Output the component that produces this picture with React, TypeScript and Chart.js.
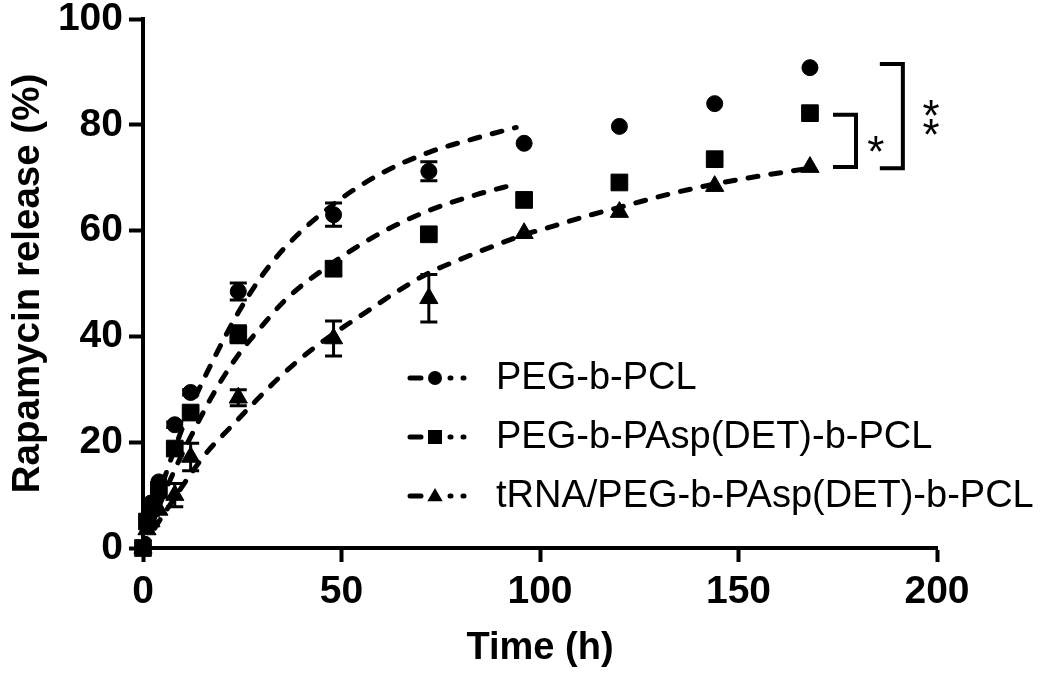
import React, { useEffect, useRef } from 'react';
import { Chart, registerables } from 'chart.js';

Chart.register(...registerables);

const FONT = '"Liberation Sans", Arial, Helvetica, sans-serif';

// Measured time points (h)
const timePoints = [0, 1, 2, 4, 8, 12, 24, 48, 72, 96, 120, 144, 168];

// Series values (% release) and error (SD)
const pegPclRelease = [0, 5.5, 8.5, 12.5, 23.3, 29.4, 48.5, 63.0, 71.2, 76.5, 79.7, 84.0, 90.8];
const pegPclError = [0, 0, 0, 0, 0.5, 0.5, 1.6, 2.2, 1.8, 0, 0, 0, 0];

const pegPaspPclRelease = [0, 5.0, 7.5, 11.0, 18.8, 25.6, 40.4, 52.8, 59.3, 65.8, 69.1, 73.5, 82.2];
const pegPaspPclError = [0, 0, 0, 0, 1.0, 0.5, 1.6, 1.2, 0, 0, 0, 0, 0];

const trnaRelease = [0, 3.5, 5.0, 7.2, 10.0, 17.2, 28.4, 39.6, 47.2, 59.5, 63.5, 68.4, 72.0];
const trnaError = [0, 0, 0, 0, 2.2, 2.6, 1.5, 3.3, 4.5, 0, 0, 0, 0];

// Fitted curves
const pegPclFitTime = [0, 4, 8, 12, 18, 24, 30, 36, 48, 60, 72, 84, 94];
const pegPclFitValue = [0, 10, 18.8, 26.5, 36, 44.5, 51.5, 57, 65, 70.8, 74.8, 77.5, 79.5];

const pegPaspPclFitTime = [0, 4, 8, 12, 18, 24, 30, 36, 48, 60, 72, 84, 94];
const pegPaspPclFitValue = [0, 7.8, 14.8, 21, 29.5, 36.5, 42, 47, 54, 59.6, 63.8, 66.8, 68.8];

const trnaFitTime = [0, 4, 8, 12, 16, 22, 28, 34, 40, 48, 56, 64, 72, 80, 88, 96, 104, 112, 120, 132, 144, 156, 168];
const trnaFitValue = [0, 5, 9.5, 14, 18, 22.8, 27.5, 32, 36, 40.5, 44.5, 48.5, 52, 54.6, 57, 59.2, 61, 62.8, 64.4, 66.8, 68.8, 70.4, 71.8];

const seriesLabels = ['PEG-b-PCL', 'PEG-b-PAsp(DET)-b-PCL', 'tRNA/PEG-b-PAsp(DET)-b-PCL'];
const seriesMarkers = ['circle', 'rect', 'triangle'];

// Axis ticks
const xTickValues = [0, 50, 100, 150, 200];
const yTickValues = [0, 20, 40, 60, 80, 100];

// Significance brackets (data coords): [xLeft, xRight, yTop, yBottom]
const sigBrackets = [
  [173.8, 179.6, 81.9, 72.0],
  [185.6, 191.4, 91.5, 71.8],
];
// Significance stars: [x, y, text]
const sigStars: [number, number, string][] = [
  [184.6, 76.4, '*'],
  [198.5, 83.2, '*'],
  [198.5, 79.6, '*'],
];

function toXY(xs: number[], ys: number[]) {
  return xs.map((x, i) => ({ x, y: ys[i] }));
}

function drawMarker(ctx: CanvasRenderingContext2D, style: string, x: number, y: number, r: number) {
  ctx.beginPath();
  if (style === 'circle') {
    ctx.arc(x, y, r, 0, Math.PI * 2);
  } else if (style === 'rect') {
    ctx.rect(x - r, y - r, 2 * r, 2 * r);
  } else {
    const h = r * 1.9;
    ctx.moveTo(x, y - h * 0.6);
    ctx.lineTo(x + r * 1.1, y + h * 0.4);
    ctx.lineTo(x - r * 1.1, y + h * 0.4);
    ctx.closePath();
  }
  ctx.fill();
}

const errorBarPlugin = {
  id: 'errorBars',
  afterDatasetsDraw(chart: any) {
    const ctx = chart.ctx as CanvasRenderingContext2D;
    const yScale = chart.scales.y;
    const errs = [pegPclError, pegPaspPclError, trnaError];
    const vals = [pegPclRelease, pegPaspPclRelease, trnaRelease];
    ctx.save();
    ctx.strokeStyle = '#000';
    ctx.lineWidth = 3;
    for (let d = 0; d < 3; d++) {
      const meta = chart.getDatasetMeta(d);
      meta.data.forEach((pt: any, j: number) => {
        const e = errs[d][j];
        if (!e) return;
        const x = pt.x;
        const y1 = yScale.getPixelForValue(vals[d][j] + e);
        const y2 = yScale.getPixelForValue(vals[d][j] - e);
        ctx.beginPath();
        ctx.moveTo(x, y1);
        ctx.lineTo(x, y2);
        ctx.moveTo(x - 8.5, y1);
        ctx.lineTo(x + 8.5, y1);
        ctx.moveTo(x - 8.5, y2);
        ctx.lineTo(x + 8.5, y2);
        ctx.stroke();
      });
    }
    ctx.restore();
  },
};

const annotationPlugin = {
  id: 'annotations',
  afterDraw(chart: any) {
    const ctx = chart.ctx as CanvasRenderingContext2D;
    const xs = chart.scales.x;
    const ys = chart.scales.y;
    ctx.save();
    // brackets
    ctx.strokeStyle = '#000';
    ctx.lineWidth = 4;
    ctx.lineJoin = 'miter';
    ctx.lineCap = 'butt';
    sigBrackets.forEach(([xl, xr, yt, yb]) => {
      const l = xs.getPixelForValue(xl);
      const r = xs.getPixelForValue(xr);
      const t = ys.getPixelForValue(yt);
      const b = ys.getPixelForValue(yb);
      ctx.beginPath();
      ctx.moveTo(l, t);
      ctx.lineTo(r, t);
      ctx.lineTo(r, b);
      ctx.lineTo(l, b);
      ctx.stroke();
    });
    // stars
    ctx.fillStyle = '#000';
    ctx.font = `44px ${FONT}`;
    ctx.textAlign = 'center';
    ctx.textBaseline = 'alphabetic';
    sigStars.forEach(([sx, sy, txt]) => {
      const m = ctx.measureText(txt);
      const a = m.actualBoundingBoxAscent;
      const d = m.actualBoundingBoxDescent;
      const cx = xs.getPixelForValue(sx);
      const cy = ys.getPixelForValue(sy);
      ctx.fillText(txt, cx, cy + (a - d) / 2);
    });
    // legend
    const rowY = [378, 437, 496];
    ctx.font = `38px ${FONT}`;
    ctx.textAlign = 'left';
    ctx.textBaseline = 'middle';
    seriesLabels.forEach((label, i) => {
      const y = rowY[i];
      ctx.lineWidth = 5;
      ctx.lineCap = 'round';
      ctx.beginPath();
      ctx.moveTo(410, y);
      ctx.lineTo(421, y);
      ctx.moveTo(450, y);
      ctx.lineTo(451, y);
      ctx.moveTo(463, y);
      ctx.lineTo(464, y);
      ctx.stroke();
      drawMarker(ctx, seriesMarkers[i], 435, y, 7);
      ctx.fillText(label, 496, y + 1);
    });
    ctx.restore();
  },
};

export default function App() {
  const canvasRef = useRef<HTMLCanvasElement | null>(null);

  useEffect(() => {
    if (!canvasRef.current) return;
    const markerCommon = {
      showLine: false,
      backgroundColor: '#000',
      borderColor: '#000',
      borderWidth: 1,
      clip: false as any,
      order: 0,
    };
    const curveCommon = {
      showLine: true,
      pointRadius: 0,
      borderColor: '#000',
      borderWidth: 5,
      borderDash: [10, 13],
      borderCapStyle: 'round' as const,
      cubicInterpolationMode: 'monotone' as const,
      fill: false,
      clip: false as any,
      order: 1,
    };
    const chart = new Chart(canvasRef.current, {
      type: 'scatter',
      data: {
        datasets: [
          { ...markerCommon, label: seriesLabels[0], data: toXY(timePoints, pegPclRelease), pointStyle: 'circle', pointRadius: 8 },
          { ...markerCommon, label: seriesLabels[1], data: toXY(timePoints, pegPaspPclRelease), pointStyle: 'rect', pointRadius: 11.8 },
          { ...markerCommon, label: seriesLabels[2], data: toXY(timePoints, trnaRelease), pointStyle: 'triangle', pointRadius: 10.5 },
          { ...curveCommon, label: 'fit1', data: toXY(pegPclFitTime, pegPclFitValue) },
          { ...curveCommon, label: 'fit2', data: toXY(pegPaspPclFitTime, pegPaspPclFitValue) },
          { ...curveCommon, label: 'fit3', data: toXY(trnaFitTime, trnaFitValue) },
        ] as any,
      },
      options: {
        responsive: false,
        animation: false,
        events: [],
        layout: { padding: { top: 19, right: 113, left: 0, bottom: 0 } },
        plugins: { legend: { display: false }, tooltip: { enabled: false } },
        scales: {
          x: {
            type: 'linear',
            min: 0,
            max: 200,
            afterBuildTicks: (s: any) => { s.ticks = xTickValues.map((v) => ({ value: v })); },
            afterFit: (s: any) => { s.height = 125; s.paddingLeft = 0; s.paddingRight = 0; },
            ticks: { color: '#000', font: { family: FONT, size: 39, weight: 'bold' }, padding: 7, maxRotation: 0, autoSkip: false },
            grid: { drawOnChartArea: false, drawTicks: true, tickLength: 14, tickWidth: 4, tickColor: '#000', color: '#000' },
            border: { display: true, color: '#000', width: 4 },
            title: { display: true, text: 'Time (h)', color: '#000', font: { family: FONT, size: 38, weight: 'bold' }, padding: { top: 0, bottom: 2 } },
          },
          y: {
            type: 'linear',
            min: 0,
            max: 100,
            afterBuildTicks: (s: any) => { s.ticks = yTickValues.map((v) => ({ value: v })); },
            afterFit: (s: any) => { s.width = 143; s.paddingTop = 0; s.paddingBottom = 0; },
            ticks: { color: '#000', font: { family: FONT, size: 39, weight: 'bold' }, padding: 6, autoSkip: false },
            grid: { drawOnChartArea: false, drawTicks: true, tickLength: 14, tickWidth: 4, tickColor: '#000', color: '#000' },
            border: { display: true, color: '#000', width: 4 },
            title: { display: true, text: 'Rapamycin release (%)', color: '#000', font: { family: FONT, size: 38.5, weight: 'bold' }, padding: { top: 5, bottom: 0 } },
          },
        },
      } as any,
      plugins: [errorBarPlugin, annotationPlugin],
    });
    return () => chart.destroy();
  }, []);

  return (
    <div style={{ position: 'absolute', left: 0, top: 0, width: 1050, height: 673, background: '#fff' }}>
      <canvas ref={canvasRef} width={1050} height={673} style={{ display: 'block' }} />
    </div>
  );
}
